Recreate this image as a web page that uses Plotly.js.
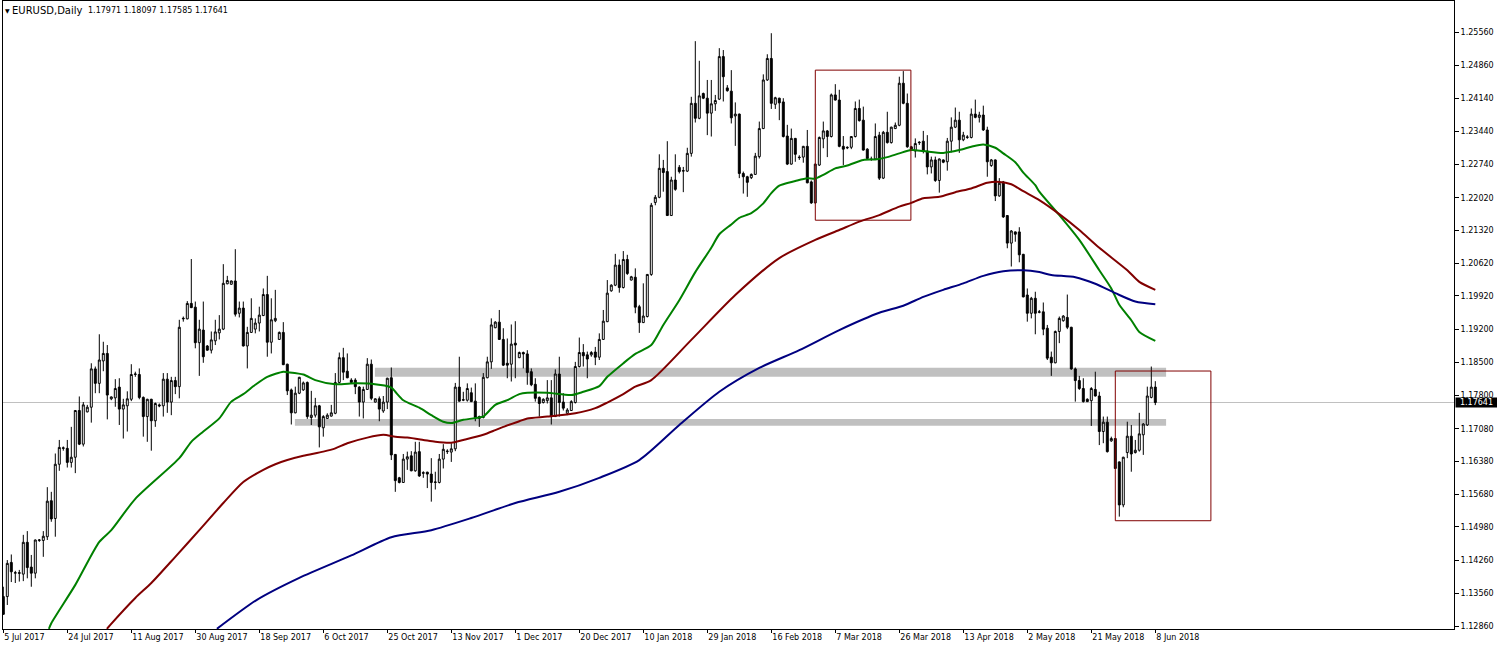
<!DOCTYPE html>
<html><head><meta charset="utf-8">
<script src="https://cdn.plot.ly/plotly-3.0.1.min.js"></script>
<style>html,body{margin:0;padding:0;background:#fff;overflow:hidden}#chart{width:1497px;height:650px}</style>
</head><body><div id="chart"></div>
<script>
// Daily EURUSD candles, 5 Jul 2017 .. 8 Jun 2018 (289 bars)
const openP = [
1.1349,1.1349,1.1422,1.1399,1.1400,1.1397,1.1465,1.1412,1.1399,1.1469,1.1469,1.1477,1.1554,1.1516,1.1632,1.1666,
1.1666,1.1636,1.1647,1.1747,1.1675,1.1744,1.1754,1.1836,1.1805,1.1853,1.1869,1.1772,1.1774,1.1797,1.1750,1.1757,
1.1771,1.1824,1.1824,1.1775,1.1734,1.1771,1.1725,1.1759,1.1757,1.1814,1.1765,1.1811,1.1798,1.1943,1.1943,1.1976,
1.1968,1.1892,1.1919,1.1885,1.1876,1.1896,1.1913,1.1921,1.2018,1.2017,1.2024,1.1955,1.1966,1.1885,1.1914,1.1921,
1.1934,1.1950,1.1995,1.1893,1.1939,1.1899,1.1914,1.1846,1.1791,1.1742,1.1784,1.1791,1.1807,1.1732,1.1737,1.1757,
1.1710,1.1730,1.1735,1.1741,1.1807,1.1860,1.1831,1.1812,1.1812,1.1797,1.1765,1.1792,1.1846,1.1765,1.1772,1.1746,
1.1765,1.1817,1.1653,1.1603,1.1593,1.1643,1.1650,1.1618,1.1659,1.1614,1.1615,1.1611,1.1593,1.1593,1.1643,1.1659,
1.1658,1.1665,1.1797,1.1769,1.1769,1.1785,1.1767,1.1734,1.1732,1.1817,1.1851,1.1924,1.1936,1.1899,1.1848,1.1846,
1.1891,1.1860,1.1871,1.1868,1.1830,1.1803,1.1775,1.1764,1.1768,1.1774,1.1734,1.1825,1.1765,1.1741,1.1747,1.1764,
1.1841,1.1871,1.1866,1.1866,1.1872,1.1861,1.1899,1.1937,1.2003,1.2015,1.2058,1.2010,1.2070,1.2026,1.2032,1.1969,
1.1935,1.1948,1.2038,1.2192,1.2203,1.2265,1.2258,1.2164,1.2240,1.2267,1.2259,1.2259,1.2297,1.2404,1.2372,1.2425,
1.2415,1.2383,1.2403,1.2413,1.2504,1.2437,1.2430,1.2377,1.2381,1.2254,1.2247,1.2245,1.2252,1.2290,1.2350,1.2454,
1.2500,1.2402,1.2415,1.2407,1.2334,1.2274,1.2329,1.2289,1.2289,1.2312,1.2236,1.2191,1.2272,1.2328,1.2345,1.2333,
1.2422,1.2411,1.2312,1.2310,1.2310,1.2333,1.2393,1.2368,1.2306,1.2285,1.2285,1.2336,1.2244,1.2342,1.2320,1.2350,
1.2357,1.2447,1.2404,1.2311,1.2302,1.2321,1.2323,1.2302,1.2268,1.2283,1.2239,1.2283,1.2279,1.2323,1.2353,1.2368,
1.2326,1.2331,1.2331,1.2381,1.2374,1.2379,1.2347,1.2271,1.2283,1.2206,1.2236,1.2164,1.2105,1.2129,1.2129,1.2081,
1.1994,1.1955,1.1987,1.1957,1.1958,1.1923,1.1861,1.1849,1.1916,1.1939,1.1946,1.1925,1.1836,1.1811,1.1794,1.1771,
1.1768,1.1792,1.1778,1.1702,1.1722,1.1682,1.1687,1.1637,1.1545,1.1657,1.1692,1.1657,1.1662,1.1695,1.1716,1.1775,
1.17971];
const highP = [
1.1370,1.1427,1.1439,1.1404,1.1406,1.1481,1.1489,1.1438,1.1471,1.1472,1.1489,1.1583,1.1573,1.1655,1.1684,1.1670,
1.1684,1.1712,1.1748,1.1777,1.1765,1.1759,1.1848,1.1841,1.1910,1.1894,1.1887,1.1777,1.1814,1.1816,1.1772,1.1788,
1.1846,1.1830,1.1837,1.1777,1.1772,1.1772,1.1764,1.1762,1.1827,1.1827,1.1819,1.1819,1.1941,1.1948,1.1981,1.2071,
1.1980,1.1941,1.1980,1.1887,1.1916,1.1941,1.1951,1.2060,1.2035,1.2025,1.2092,1.1980,1.1980,1.1926,1.1987,1.1944,
1.1969,1.2008,1.2035,1.1987,1.2005,1.1916,1.1936,1.1847,1.1794,1.1798,1.1819,1.1809,1.1809,1.1789,1.1774,1.1759,
1.1737,1.1741,1.1759,1.1827,1.1871,1.1881,1.1869,1.1816,1.1816,1.1799,1.1798,1.1859,1.1856,1.1773,1.1777,1.1778,
1.1817,1.1839,1.1654,1.1605,1.1654,1.1659,1.1660,1.1680,1.1680,1.1617,1.1616,1.1645,1.1616,1.1654,1.1675,1.1664,
1.1677,1.1806,1.1862,1.1787,1.1805,1.1796,1.1805,1.1736,1.1827,1.1862,1.1944,1.1938,1.1962,1.1923,1.1901,1.1931,
1.1938,1.1873,1.1873,1.1876,1.1837,1.1816,1.1777,1.1773,1.1812,1.1812,1.1835,1.1862,1.1784,1.1752,1.1769,1.1851,
1.1903,1.1889,1.1873,1.1874,1.1883,1.1912,1.1962,1.2026,1.2017,1.2082,1.2070,1.2088,1.2080,1.2035,1.2051,1.1973,
1.2019,1.2039,1.2191,1.2208,1.2295,1.2283,1.2323,1.2247,1.2295,1.2272,1.2268,1.2309,1.2418,1.2537,1.2495,1.2427,
1.2454,1.2454,1.2422,1.2522,1.2518,1.2443,1.2475,1.2406,1.2382,1.2258,1.2249,1.2254,1.2298,1.2365,1.2466,1.2509,
1.2554,1.2418,1.2416,1.2415,1.2358,1.2350,1.2330,1.2293,1.2313,1.2347,1.2239,1.2275,1.2333,1.2365,1.2347,1.2425,
1.2445,1.2433,1.2334,1.2312,1.2334,1.2408,1.2412,1.2397,1.2308,1.2290,1.2361,1.2343,1.2345,1.2386,1.2354,1.2363,
1.2461,1.2473,1.2425,1.2313,1.2329,1.2323,1.2345,1.2336,1.2290,1.2290,1.2286,1.2284,1.2330,1.2374,1.2395,1.2386,
1.2343,1.2336,1.2393,1.2412,1.2386,1.2399,1.2354,1.2285,1.2284,1.2244,1.2238,1.2165,1.2133,1.2130,1.2139,1.2082,
1.2008,1.1990,1.2001,1.1962,1.1978,1.1930,1.1873,1.1918,1.1948,1.1951,1.1995,1.1926,1.1839,1.1821,1.1816,1.1773,
1.1797,1.1830,1.1787,1.1734,1.1734,1.1691,1.1688,1.1638,1.1648,1.1723,1.1716,1.1684,1.1742,1.1720,1.1798,1.1841,
1.18097];
const lowP = [
1.1310,1.1331,1.1380,1.1378,1.1381,1.1382,1.1388,1.1370,1.1388,1.1466,1.1434,1.1470,1.1509,1.1477,1.1618,1.1661,
1.1625,1.1625,1.1613,1.1673,1.1670,1.1743,1.1721,1.1784,1.1784,1.1831,1.1728,1.1769,1.1755,1.1716,1.1687,1.1702,
1.1767,1.1819,1.1771,1.1691,1.1680,1.1661,1.1712,1.1754,1.1734,1.1742,1.1737,1.1782,1.1773,1.1937,1.1942,1.1966,
1.1880,1.1821,1.1849,1.1875,1.1869,1.1887,1.1899,1.1919,1.2017,1.2016,1.1948,1.1946,1.1884,1.1837,1.1913,1.1912,
1.1916,1.1949,1.1862,1.1869,1.1936,1.1898,1.1844,1.1780,1.1717,1.1741,1.1782,1.1789,1.1729,1.1716,1.1732,1.1668,
1.1691,1.1729,1.1734,1.1739,1.1805,1.1812,1.1816,1.1805,1.1782,1.1734,1.1730,1.1791,1.1769,1.1764,1.1724,1.1742,
1.1750,1.1641,1.1573,1.1591,1.1592,1.1620,1.1617,1.1616,1.1605,1.1603,1.1581,1.1552,1.1578,1.1591,1.1623,1.1654,
1.1637,1.1660,1.1766,1.1767,1.1766,1.1765,1.1724,1.1712,1.1730,1.1816,1.1836,1.1923,1.1898,1.1842,1.1816,1.1809,
1.1816,1.1859,1.1837,1.1802,1.1799,1.1766,1.1734,1.1762,1.1762,1.1717,1.1733,1.1734,1.1747,1.1737,1.1746,1.1762,
1.1839,1.1841,1.1816,1.1862,1.1844,1.1855,1.1898,1.1936,1.2001,1.2013,1.1999,1.2008,1.2037,1.2025,1.1955,1.1913,
1.1934,1.1946,1.2035,1.2186,1.2201,1.2215,1.2163,1.2163,1.2217,1.2254,1.2214,1.2257,1.2290,1.2363,1.2370,1.2413,
1.2336,1.2333,1.2388,1.2411,1.2408,1.2429,1.2361,1.2313,1.2244,1.2211,1.2204,1.2242,1.2251,1.2286,1.2349,1.2452,
1.2392,1.2392,1.2368,1.2331,1.2272,1.2273,1.2279,1.2283,1.2277,1.2233,1.2189,1.2190,1.2270,1.2308,1.2289,1.2331,
1.2410,1.2310,1.2272,1.2306,1.2306,1.2331,1.2365,1.2303,1.2284,1.2281,1.2284,1.2240,1.2242,1.2318,1.2318,1.2349,
1.2355,1.2402,1.2309,1.2302,1.2288,1.2315,1.2297,1.2252,1.2254,1.2236,1.2213,1.2276,1.2260,1.2299,1.2351,1.2298,
1.2323,1.2328,1.2329,1.2372,1.2363,1.2345,1.2247,1.2268,1.2195,1.2204,1.2159,1.2094,1.2055,1.2108,1.2064,1.1989,
1.1937,1.1944,1.1910,1.1955,1.1908,1.1855,1.1821,1.1848,1.1891,1.1937,1.1921,1.1834,1.1766,1.1791,1.1764,1.1765,
1.1714,1.1777,1.1673,1.1677,1.1657,1.1680,1.1622,1.1520,1.1540,1.1645,1.1616,1.1655,1.1659,1.1652,1.1714,1.1773,
1.17585];
const closeP = [
1.1311,1.1420,1.1402,1.1400,1.1399,1.1465,1.1411,1.1399,1.1470,1.1470,1.1478,1.1553,1.1515,1.1632,1.1668,1.1667,
1.1636,1.1647,1.1747,1.1675,1.1759,1.1754,1.1836,1.1805,1.1855,1.1869,1.1780,1.1776,1.1794,1.1750,1.1759,1.1772,
1.1824,1.1825,1.1775,1.1734,1.1771,1.1725,1.1762,1.1757,1.1814,1.1765,1.1811,1.1798,1.1925,1.1944,1.1976,1.1967,
1.1892,1.1921,1.1862,1.1876,1.1898,1.1915,1.1921,1.2019,1.2025,1.2024,1.1953,1.1966,1.1885,1.1914,1.1944,1.1934,
1.1951,1.1995,1.1893,1.1941,1.1944,1.1914,1.1845,1.1789,1.1742,1.1784,1.1818,1.1806,1.1734,1.1737,1.1757,1.1712,
1.1734,1.1737,1.1742,1.1807,1.1860,1.1829,1.1817,1.1807,1.1798,1.1765,1.1792,1.1846,1.1773,1.1772,1.1750,1.1765,
1.1816,1.1652,1.1597,1.1593,1.1643,1.1648,1.1618,1.1658,1.1607,1.1613,1.1611,1.1593,1.1594,1.1643,1.1664,1.1660,
1.1665,1.1797,1.1767,1.1770,1.1794,1.1766,1.1732,1.1730,1.1818,1.1851,1.1930,1.1936,1.1899,1.1844,1.1844,1.1889,
1.1887,1.1871,1.1868,1.1828,1.1802,1.1773,1.1762,1.1771,1.1774,1.1734,1.1825,1.1764,1.1752,1.1748,1.1766,1.1841,
1.1871,1.1864,1.1857,1.1871,1.1861,1.1899,1.1938,1.1998,1.2015,1.2058,1.2010,1.2070,1.2040,1.2033,1.1968,1.1935,
1.1949,1.2038,1.2186,1.2203,1.2265,1.2256,1.2164,1.2240,1.2220,1.2258,1.2260,1.2297,1.2404,1.2372,1.2420,1.2415,
1.2383,1.2403,1.2410,1.2504,1.2461,1.2431,1.2373,1.2381,1.2254,1.2247,1.2235,1.2252,1.2291,1.2350,1.2454,1.2500,
1.2404,1.2416,1.2405,1.2333,1.2274,1.2329,1.2295,1.2288,1.2312,1.2234,1.2191,1.2274,1.2331,1.2345,1.2333,1.2422,
1.2411,1.2312,1.2306,1.2309,1.2333,1.2393,1.2367,1.2304,1.2286,1.2284,1.2333,1.2244,1.2342,1.2320,1.2353,1.2357,
1.2447,1.2404,1.2311,1.2304,1.2318,1.2320,1.2301,1.2268,1.2283,1.2239,1.2285,1.2278,1.2323,1.2353,1.2368,1.2326,
1.2336,1.2332,1.2381,1.2374,1.2379,1.2347,1.2279,1.2283,1.2206,1.2233,1.2161,1.2105,1.2131,1.2124,1.2080,1.1990,
1.1955,1.1987,1.1955,1.1958,1.1921,1.1859,1.1849,1.1916,1.1944,1.1949,1.1925,1.1836,1.1811,1.1794,1.1766,1.1766,
1.1794,1.1778,1.1702,1.1722,1.1659,1.1687,1.1623,1.1545,1.1647,1.1692,1.1654,1.1662,1.1697,1.1718,1.1778,1.1797,
1.17641];

// Moving averages sampled along the drawn lines (bar position, price)
const maGreenBar = [11.4,12,18,24,27,33,44,47,50,54,57,60,63,66,70,71,75,78,83,88,92,97,98,100,104,107,110,112,115,119,120,123,126,129,131,136,142,145,149,151,155,158,162,165,169,173,177,179,182,184,187,190,192,194,195,198,201,203,205,208,211,215,218,221,224,227,230,235,239,242,245,248,250,253,255,258,259,264,269,274,277,279,282,284,288];
const maGreenVal = [1.1280,1.1292,1.1374,1.1466,1.1491,1.1558,1.1645,1.1680,1.1702,1.1730,1.1766,1.1782,1.1802,1.1819,1.1830,1.1829,1.1824,1.1812,1.1803,1.1805,1.1804,1.1796,1.1787,1.1769,1.1753,1.1737,1.1723,1.1720,1.1727,1.1732,1.1734,1.1759,1.1769,1.1782,1.1785,1.1785,1.1780,1.1787,1.1799,1.1819,1.1848,1.1868,1.1887,1.1930,1.1983,1.2043,1.2095,1.2124,1.2145,1.2159,1.2169,1.2190,1.2212,1.2228,1.2231,1.2238,1.2244,1.2243,1.2251,1.2265,1.2271,1.2283,1.2284,1.2289,1.2297,1.2304,1.2302,1.2298,1.2304,1.2311,1.2316,1.2309,1.2297,1.2278,1.2256,1.2229,1.2215,1.2165,1.2112,1.2047,1.2008,1.1973,1.1940,1.1915,1.1896];
const maRedBar = [25.9,26.7,33,37,43,49,55,60,65,68,71,75,80,83,86,91,95,98,101,105,108,112,115,120,123,125,129,131,136,143,148,151,155,158,162,172,183,194,203,209,214,219,224,227,230,234,238,242,246,249,252,255,259,264,269,274,281,284,288];
const maRedVal = [1.1280,1.1288,1.1346,1.1378,1.1434,1.1491,1.1549,1.1594,1.1620,1.1632,1.1641,1.1650,1.1659,1.1666,1.1677,1.1689,1.1695,1.1691,1.1689,1.1684,1.1680,1.1678,1.1684,1.1695,1.1705,1.1712,1.1724,1.1730,1.1734,1.1741,1.1752,1.1764,1.1782,1.1798,1.1812,1.1898,1.1994,1.2073,1.2112,1.2133,1.2151,1.2165,1.2183,1.2191,1.2201,1.2204,1.2214,1.2222,1.2234,1.2236,1.2231,1.2216,1.2197,1.2167,1.2133,1.2095,1.2047,1.2022,1.2005];
const maBlueBar = [53.4,63.4,74,87,97,107,117,128,139,149,159,169,179,189,199,209,219,225,230,235,240,245,250,255,259,262,268,273,278,283,288];
const maBlueVal = [1.1280,1.1342,1.1389,1.1437,1.1476,1.1491,1.1517,1.1549,1.1573,1.1603,1.1641,1.1716,1.1787,1.1838,1.1876,1.1919,1.1956,1.1971,1.1990,1.2005,1.2019,1.2035,1.2045,1.2047,1.2043,1.2037,1.2032,1.2018,1.1998,1.1980,1.1974];

// Axis labels
const dateTickBar = [0,16,32,48,64,80,96,112,128,144,160,176,192,208,224,240,256,272,288];
const dateTickText = ['5 Jul 2017','24 Jul 2017','11 Aug 2017','30 Aug 2017','18 Sep 2017','6 Oct 2017','25 Oct 2017','13 Nov 2017','1 Dec 2017','20 Dec 2017','10 Jan 2018','29 Jan 2018','16 Feb 2018','7 Mar 2018','26 Mar 2018','13 Apr 2018','2 May 2018','21 May 2018','8 Jun 2018'];
const priceTicks = [1.25560,1.24860,1.24140,1.23440,1.22740,1.22020,1.21320,1.20620,1.19920,1.19200,1.18500,1.17800,1.17080,1.16380,1.15680,1.14980,1.14260,1.13560,1.12860];

// Drawn objects: grey zones and boxes (bar from, bar to, price low, price high)
const zoneFrom = [92.9, 72.9];
const zoneTo = [290.7, 290.7];
const zoneLow = [1.18192, 1.17144];
const zoneHigh = [1.18385, 1.17288];
const boxFrom = [203, 278];
const boxTo = [226.9, 301.9];
const boxLow = [1.2154, 1.15112];
const boxHigh = [1.2475, 1.18314];

const symbolText = 'EURUSD,Daily';
const lastBar = [openP[288], highP[288], lowP[288], closeP[288]];
const bid = closeP[closeP.length - 1];

const barPos = openP.map((_, i) => i);

const maLine = (xs, ys, color) => ({type:'scatter', mode:'lines', x:xs, y:ys,
  line:{color:color, width:2, shape:'spline', smoothing:0.7}, hoverinfo:'skip', showlegend:false});

const traces = [
  {type:'candlestick', x:barPos, open:openP, high:highP, low:lowP, close:closeP,
   increasing:{line:{color:'#000000', width:1}, fillcolor:'#FFFFFF'},
   decreasing:{line:{color:'#000000', width:1}, fillcolor:'#000000'},
   whiskerwidth:0, hoverinfo:'skip', showlegend:false},
  maLine(maGreenBar, maGreenVal, '#008000'),
  maLine(maRedBar, maRedVal, '#800000'),
  maLine(maBlueBar, maBlueVal, '#000080')
];

const shapes = [];
shapes.push({type:'line', xref:'paper', x0:0, x1:1, yref:'y', y0:bid, y1:bid, line:{color:'#C0C0C0', width:1}, layer:'below'});
for (let k = 0; k < zoneFrom.length; k++) {
  shapes.push({type:'rect', xref:'x', yref:'y', x0:zoneFrom[k], x1:zoneTo[k], y0:zoneLow[k], y1:zoneHigh[k],
    fillcolor:'#C0C0C0', line:{width:0}, layer:'below'});
}
for (let k = 0; k < boxFrom.length; k++) {
  shapes.push({type:'rect', xref:'x', yref:'y', x0:boxFrom[k], x1:boxTo[k], y0:boxLow[k], y1:boxHigh[k],
    fillcolor:'rgba(0,0,0,0)', line:{color:'#800000', width:1}, layer:'above'});
}

const F = 'DejaVu Sans, Verdana, sans-serif';
const W = 1497, H = 650, ML = 3, MR = 43, MT = 1, MB = 21;
const PW = W - ML - MR, PH = H - MT - MB;
const px = v => (v - ML) / PW;
const py = v => 1 - (v - MT) / PH;

const annotations = [
  {xref:'paper', yref:'paper', x:px(2.5), y:py(10), xanchor:'left', yanchor:'middle', text:'\u25BC', showarrow:false, font:{family:F, size:6, color:'#000'}},
  {xref:'paper', yref:'paper', x:px(9.5), y:py(10), xanchor:'left', yanchor:'middle', text:symbolText, showarrow:false, font:{family:F, size:10, color:'#000'}},
  {xref:'paper', yref:'paper', x:px(86), y:py(10), xanchor:'left', yanchor:'middle', text:lastBar.map(v => v.toFixed(5)).join(' '), showarrow:false, font:{family:F, size:8, color:'#000'}},
  {xref:'paper', yref:'y', x:1, y:bid, xanchor:'left', yanchor:'middle', xshift:1, yshift:-0.5, text:bid.toFixed(5), showarrow:false,
   bgcolor:'#000000', borderpad:0, width:41, height:9, align:'center', font:{family:F, size:8, color:'#FFFFFF'}}
];

const layout = {
  width:W, height:H, margin:{l:ML, r:MR, t:MT, b:MB, pad:0},
  paper_bgcolor:'#FFFFFF', plot_bgcolor:'#FFFFFF', showlegend:false, dragmode:false,
  xaxis:{range:[-0.075, 362.675], showgrid:false, zeroline:false, showline:true, linecolor:'#000', linewidth:1, mirror:true,
    ticks:'outside', ticklen:3, tickcolor:'#000', tickwidth:1, tickmode:'array', tickvals:dateTickBar, ticktext:dateTickText,
    ticklabelposition:'outside right', tickfont:{family:F, size:8, color:'#000'}, rangeslider:{visible:false}, fixedrange:true},
  yaxis:{side:'right', range:[1.12796, 1.26229], showgrid:false, zeroline:false, showline:true, linecolor:'#000', linewidth:1, mirror:true,
    ticks:'outside', ticklen:4, tickcolor:'#000', tickwidth:1, tickmode:'array', tickvals:priceTicks, tickformat:'.5f',
    tickfont:{family:F, size:8, color:'#000'}, fixedrange:true},
  shapes:shapes, annotations:annotations
};

Plotly.newPlot('chart', traces, layout, {staticPlot:true, displayModeBar:false});
</script>
</body></html>
